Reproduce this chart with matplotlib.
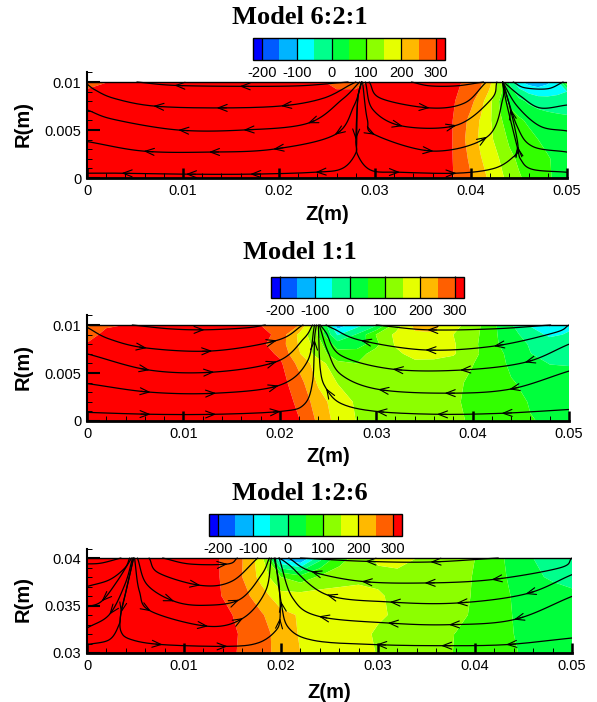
import numpy as np
import matplotlib
matplotlib.use('Agg')
import matplotlib.pyplot as plt

plt.rcParams['font.family'] = ['Liberation Sans', 'DejaVu Sans']
plt.rcParams['axes.unicode_minus'] = False

W, H = 597, 702

levels = [-225, -200, -150, -100, -50, 0, 50, 100, 150, 200, 250, 300, 325]
band_colors = ['#0000ff', '#005aff', '#00b4ff', '#00ffff', '#00ff8c', '#00ff3c',
               '#32ff00', '#8cff00', '#e6ff00', '#ffb900', '#ff5f00', '#ff0000']
bar_ticks = [-200, -100, 0, 100, 200, 300]

# ---- Model 6:2:1 ----
z1 = [0, .002, .004, .024, .026, .028, .03, .036, .038, .039, .04, .041, .042, .043, .044, .045, .046, .047, .048, .049, .05]
r1 = [0, .002, .004, .006, .008, .009, .01]
T1 = [
    [350, 350, 350, 350, 350, 350, 350, 330, 305, 275, 252, 220, 190, 162, 135, 105, 88, 72, 55, 42, 35],
    [350, 350, 350, 350, 350, 350, 350, 330, 303, 270, 240, 203, 178, 148, 112, 92, 80, 65, 53, 42, 35],
    [350, 350, 350, 350, 350, 350, 350, 330, 302, 265, 225, 190, 160, 127, 92, 78, 65, 50, 40, 33, 27],
    [350, 350, 350, 350, 350, 350, 350, 335, 303, 270, 235, 195, 155, 105, 85, 58, 42, 32, 25, 18, 12],
    [350, 350, 350, 350, 350, 350, 350, 335, 308, 285, 262, 222, 160, 95, 35, 15, -8, -22, -30, -32, -30],
    [315, 350, 350, 350, 310, 310, 350, 340, 310, 295, 275, 245, 190, 120, 30, -30, -60, -75, -70, -60, -50],
    [260, 298, 350, 320, 270, 270, 320, 345, 320, 300, 285, 260, 210, 130, -10, -90, -120, -130, -110, -60, 100],
]
stream1 = [
    ([(.0272, .01), (.026, .0099), (.022, .0096), (.0159, .00955), (.0091, .00965), (.0052, .01)], [3, 4]),
    ([(.028, .01), (.0274, .0097), (.0246, .0083), (.0202, .0075), (.0135, .0073), (.0069, .0075), (.0028, .0083), (.0008, .0092), (0, .0098)], [3, 4, 5]),
    ([(.0284, .01), (.0266, .0082), (.023, .0057), (.0163, .005), (.0095, .005), (.0028, .0061), (0, .0071)], [2, 3, 4]),
    ([(.0286, .01), (.0278, .0075), (.0258, .0045), (.0194, .003), (.0127, .0027), (.0059, .0028), (0, .0038)], [2, 3, 4, 5]),
    ([(.0286, .01), (.0282, .0082), (.028, .004), (.028, .0026), (.0266, .001), (.0238, .0006), (.017, .0004), (.0103, .0004), (.0036, .0005), (0, .0005)], [2, 5, 6, 7, 8]),
    ([(.0286, .01), (.0282, .0082), (.0281, .004), (.0282, .0024), (.0296, .0008), (.0326, .0006), (.0385, .0005), (.0424, .001), (.0444, .0022), (.0449, .0033), (.0441, .0072), (.0433, .01)], [5, 6, 9, 10]),
    ([(.0294, .01), (.0306, .0083), (.0357, .0073), (.0393, .0078), (.0415, .0099)], [2]),
    ([(.029, .01), (.0298, .0071), (.0329, .0054), (.0385, .0055), (.0421, .0082), (.0427, .01)], [2, 3]),
    ([(.0287, .01), (.0292, .0061), (.03, .0045), (.0361, .0028), (.0417, .0043), (.0433, .0082), (.0433, .01)], [2, 3, 4]),
    ([(.0338, .01), (.0357, .0096), (.0385, .0096), (.0413, .01)], []),
    ([(.05, .0006), (.0464, .0009), (.0452, .0019), (.0448, .0033), (.0437, .0078), (.0433, .01)], [3]),
    ([(.05, .0027), (.0464, .0033), (.0448, .0054), (.0433, .01)], []),
    ([(.05, .0049), (.0472, .0054), (.0448, .0075), (.0433, .01)], []),
    ([(.05, .0076), (.0472, .0073), (.0452, .0085), (.0435, .0099)], []),
    ([(.0496, .01), (.048, .0093), (.0456, .0094), (.0444, .01)], []),
]

# ---- Model 1:1 ----
z2 = [0, .002, .004, .006, .008, .01, .012, .014, .016, .018, .02, .022, .024, .026, .028, .03, .032, .034, .036, .038, .04, .042, .044, .046, .048, .05]
r2 = [0, .002, .004, .006, .007, .008, .009, .01]
T2 = [
    [350, 350, 350, 350, 350, 350, 350, 350, 350, 350, 330, 302, 240, 180, 148, 140, 135, 130, 120, 108, 95, 80, 65, 52, 45, 40],
    [350, 350, 350, 350, 350, 350, 350, 350, 350, 350, 330, 290, 222, 175, 143, 140, 140, 135, 125, 105, 92, 78, 65, 47, 40, 35],
    [350, 350, 350, 350, 350, 350, 350, 350, 350, 350, 320, 270, 192, 148, 138, 130, 135, 140, 135, 112, 90, 72, 53, 40, 33, 25],
    [350, 350, 350, 350, 350, 350, 350, 350, 350, 340, 310, 235, 175, 110, 100, 115, 130, 140, 135, 130, 102, 72, 42, 22, -2, -4],
    [350, 350, 350, 350, 350, 350, 350, 350, 350, 335, 290, 205, 125, 70, 85, 115, 140, 165, 170, 155, 115, 70, 38, 1, -14, -18],
    [305, 350, 350, 350, 350, 350, 350, 350, 350, 310, 275, 195, 120, 25, 15, 90, 155, 178, 182, 155, 115, 62, 28, -5, -22, -28],
    [270, 320, 350, 350, 350, 350, 350, 350, 350, 330, 280, 190, 95, -55, 5, 102, 160, 190, 195, 150, 120, 63, 18, -25, -60, -45],
    [240, 290, 301, 350, 350, 350, 350, 350, 340, 300, 270, 250, 100, -130, -70, -10, 120, 215, 215, 170, 125, 65, 5, -55, -110, -60],
]
stream2 = [
    ([(.0047, .01), (.0086, .0096), (.0122, .0095), (.0165, .0097), (.0185, .01)], [2]),
    ([(0, .00976), (.0023, .00855), (.0062, .0076), (.013, .0073), (.0197, .0084), (.0224, .01)], [2, 3, 4]),
    ([(0, .007), (.0065, .0053), (.0132, .0051), (.0197, .0062), (.0225, .0086), (.0234, .01)], [1, 2, 3]),
    ([(0, .0039), (.0066, .003), (.0134, .0029), (.0199, .0037), (.0228, .0061), (.0236, .01)], [1, 2, 3]),
    ([(0, .0009), (.0066, .0007), (.0134, .0007), (.0201, .001), (.0225, .0017), (.0234, .0041), (.0236, .0085), (.0238, .01)], [1, 2, 3, 6]),
    ([(.05, .0012), (.043, .0008), (.0363, .0007), (.03, .001), (.0264, .0018), (.0248, .0034), (.0242, .0054), (.024, .01)], [1, 2, 3, 5]),
    ([(.05, .0052), (.0438, .0033), (.0371, .0029), (.0302, .0033), (.0264, .0048), (.025, .0072), (.0241, .01)], [1, 2, 3]),
    ([(.05, .008), (.0454, .0061), (.0387, .0053), (.0317, .0054), (.0264, .0068), (.0248, .0092), (.0242, .01)], [1, 2, 3]),
    ([(.05, .01), (.0485, .0092), (.0422, .0078), (.0351, .0074), (.0284, .0084), (.0256, .0096), (.0248, .01)], [2, 3, 4]),
    ([(.0481, .01), (.0422, .0096), (.0353, .0095), (.03, .01)], [2]),
]

# ---- Model 1:2:6 ----
z3 = z2
r3 = [.03, .032, .034, .036, .038, .04]
T3 = [
    [350, 350, 350, 350, 350, 350, 350, 350, 290, 265, 235, 200, 188, 175, 163, 148, 135, 125, 112, 98, 85, 65, 52, 43, 38, 33],
    [350, 350, 350, 350, 350, 350, 350, 350, 293, 268, 230, 195, 185, 172, 160, 145, 135, 125, 112, 99, 85, 68, 50, 40, 35, 30],
    [350, 350, 350, 350, 350, 350, 350, 315, 285, 255, 215, 195, 188, 180, 170, 155, 145, 135, 125, 112, 93, 72, 48, 38, 32, 25],
    [350, 350, 350, 350, 350, 350, 340, 298, 268, 222, 168, 170, 172, 172, 172, 158, 135, 128, 120, 110, 97, 75, 45, 30, 24, 12],
    [350, 350, 350, 350, 350, 350, 340, 295, 250, 182, 100, 70, 108, 125, 135, 135, 130, 125, 120, 110, 98, 75, 35, 10, -8, -18],
    [350, 350, 350, 350, 350, 350, 340, 295, 252, 170, -120, -160, -20, 80, 120, 160, 175, 150, 130, 115, 100, 70, 30, 0, -30, -50],
]
stream3 = [
    ([(.0035, .04), (.0015, .03947), (0, .03937)], []),
    ([(.0044, .04), (.0039, .03895), (.0023, .0377), (0, .037)], []),
    ([(.0046, .04), (.0031, .03754), (.0015, .03544), (0, .03484)], [2]),
    ([(.0047, .04), (.0039, .0372), (.0023, .03404), (0, .03263)], [2]),
    ([(.0048, .04), (.0041, .03684), (.0035, .03421), (.0033, .03298), (.0023, .0314), (0, .03088)], [2]),
    ([(.0048, .04), (.0041, .03684), (.0035, .03421), (.0035, .03228), (.0046, .0314), (.0078, .03088), (.0145, .0307), (.0176, .03105), (.0194, .03228), (.0199, .03368), (.0198, .0372), (.0193, .04)], [5, 6, 9]),
    ([(.0049, .04), (.0054, .0365), (.0066, .03439), (.0125, .03281), (.0161, .03368), (.0184, .0365), (.019, .04)], [2, 3, 4]),
    ([(.0052, .04), (.0062, .03719), (.009, .03544), (.0121, .03502), (.0157, .03561), (.018, .03825), (.0188, .04)], [2, 4]),
    ([(.0064, .04), (.0074, .03842), (.0117, .03712), (.0149, .03754), (.0176, .04)], [2]),
    ([(.0078, .04), (.0106, .03937), (.0145, .03937), (.0155, .04)], [2]),
    ([(.05, .03158), (.0432, .03088), (.0365, .03077), (.0298, .03088), (.0235, .0313), (.0208, .03263), (.02, .03544), (.0194, .04)], [1, 2, 3, 6]),
    ([(.05, .03596), (.044, .03351), (.0373, .03298), (.031, .03316), (.0239, .03386), (.0212, .03579), (.0198, .04)], [1, 2, 3, 4]),
    ([(.05, .03825), (.0452, .03621), (.0381, .03526), (.0312, .03537), (.0247, .03614), (.0208, .0393), (.0198, .04)], [1, 2, 3, 4]),
    ([(.05, .04), (.0487, .03895), (.0417, .03772), (.0348, .03737), (.0283, .03754), (.0231, .0386), (.0208, .04)], [2, 3, 4, 5]),
    ([(.0424, .04), (.0354, .03958), (.0287, .03965), (.022, .04)], [1, 2]),
]

titles = ['Model 6:2:1', 'Model 1:1', 'Model 1:2:6']
r_ticks = [[0, .005, .01], [0, .005, .01], [.03, .035, .04]]
r_labels = [['0', '0.005', '0.01'], ['0', '0.005', '0.01'], ['0.03', '0.035', '0.04']]
z_ticks = [0, .01, .02, .03, .04, .05]
z_labels = ['0', '0.01', '0.02', '0.03', '0.04', '0.05']

# pixel boxes: left, right, top, bottom
plot_box = [(87, 567, 82, 178), (87, 569, 325, 421), (87, 572, 558, 653)]
bar_box = [(253, 445, 38, 60), (271, 464, 277, 298), (209, 402, 514, 536)]
title_y = [17, 252, 493]
xlabel_x = [327, 328, 329]
xlabel_y = [215, 457, 692]


def px_axes(fig, box):
    l, r, t, b = box
    return fig.add_axes([l / W, 1 - b / H, (r - l) / W, (b - t) / H])


def smooth(pts, n=20):
    # catmull-rom through the read points
    p = np.array(pts, dtype=float)
    p = np.vstack([2 * p[0] - p[1], p, 2 * p[-1] - p[-2]])
    out = []
    for i in range(1, len(p) - 2):
        for t in np.linspace(0, 1, n, endpoint=False):
            out.append(0.5 * (2 * p[i] + (p[i + 1] - p[i - 1]) * t
                              + (2 * p[i - 1] - 5 * p[i] + 4 * p[i + 1] - p[i + 2]) * t ** 2
                              + (3 * p[i] - p[i - 1] - 3 * p[i + 1] + p[i + 2]) * t ** 3))
    out.append(p[-2])
    return np.array(out)


def draw_panel(fig, k, z, r, T, stream):
    ax = px_axes(fig, plot_box[k])
    r0, r1_ = r_ticks[k][0], r_ticks[k][-1]
    step = r1_ - r0
    ax.set_xlim(0, .05)
    # the box is field only, the axis line goes 10% higher
    pos = ax.get_position()
    ax.set_position([pos.x0, pos.y0, pos.width, pos.height * 1.1])
    ax.set_ylim(r0, r0 + step * 1.1)
    data = np.clip(np.array(T, dtype=float), -225, 325)
    cf = ax.contourf(z, r, data, levels=levels, colors=band_colors, antialiased=True)
    ax.plot([0, .05], [r1_, r1_], color='k', lw=1.0)

    for pts, arrows in stream:
        c = smooth(pts)
        ax.plot(c[:, 0], c[:, 1], color='k', lw=0.9, solid_capstyle='round')
        for a in arrows:
            j = a * 20
            ax.annotate('', xy=c[j], xytext=c[max(j - 3, 0)],
                        arrowprops=dict(arrowstyle='->,head_length=0.65,head_width=0.25', lw=0.8,
                                        color='k', mutation_scale=10, shrinkA=0, shrinkB=0))

    for s in ['top', 'right']:
        ax.spines[s].set_visible(False)
    ax.spines['left'].set_linewidth(1.5)
    ax.spines['bottom'].set_linewidth(2)
    ax.set_xticks(z_ticks)
    ax.set_xticklabels(z_labels)
    ax.set_xticks(np.arange(0, .0501, .002), minor=True)
    ax.set_yticks(r_ticks[k])
    ax.set_yticklabels(r_labels[k])
    ax.set_yticks(r0 + np.arange(0, 12) * step / 10, minor=True)
    ax.tick_params(which='major', direction='in', length=7, width=1.8, labelsize=10.5, pad=4)
    ax.tick_params(which='minor', direction='in', length=3.5, width=0.7)
    ax.tick_params(axis='y', which='major', length=9, width=1.5)

    fig.text(xlabel_x[k] / W, 1 - xlabel_y[k] / H, 'Z(m)', fontweight='bold', fontsize=14.5,
             ha='center', va='center')
    fig.text(23 / W, 1 - ((plot_box[k][2] + plot_box[k][3]) / 2 - 6) / H, 'R(m)', fontweight='bold',
             fontsize=14.5, rotation=90, ha='center', va='center')
    fig.text(300 / W, 1 - title_y[k] / H, titles[k], family='Liberation Serif', fontweight='bold',
             fontsize=19, ha='center', va='center')

    cax = px_axes(fig, bar_box[k])
    cb = fig.colorbar(cf, cax=cax, orientation='horizontal', spacing='proportional', ticks=bar_ticks)
    cb.ax.xaxis.set_major_formatter(matplotlib.ticker.FormatStrFormatter('%g'))
    cb.ax.tick_params(direction='in', length=22 * 0.72, width=0.9, labelsize=10.5, pad=4)
    cb.ax.minorticks_off()
    cb.outline.set_linewidth(1)
    return ax


fig = plt.figure(figsize=(W / 100, H / 100), dpi=100)
draw_panel(fig, 0, z1, r1, T1, stream1)
draw_panel(fig, 1, z2, r2, T2, stream2)
draw_panel(fig, 2, z3, r3, T3, stream3)
fig.savefig('out.png', dpi=100)
